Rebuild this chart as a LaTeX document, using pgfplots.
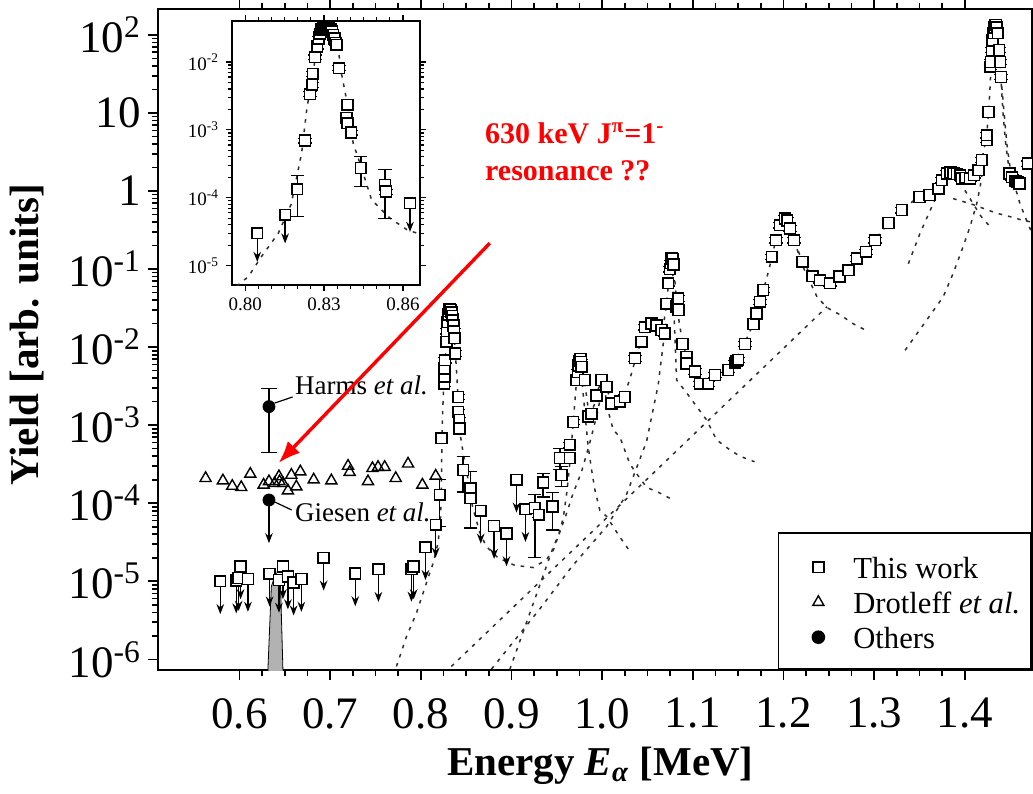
\documentclass[border=0pt]{standalone}
\usepackage{fontspec}
\setmainfont{Liberation Serif}
\usepackage{pgfplots}
\pgfplotsset{compat=1.18}
\usepackage{pgfplotstable}
\usetikzlibrary{arrows.meta}

% ---------------- main spectrum: this work ----------------
\pgfplotstableread{
E Y
0.8226 6.8e-4
0.8256 3.4e-3
0.8259 4.2e-3
0.8262 5.3e-3
0.8265 6.8e-3
0.8281 1.17e-2
0.8288 1.6e-2
0.8295 2.1e-2
0.8302 2.6e-2
0.8309 2.9e-2
0.8316 3.1e-2
0.8323 3.1e-2
0.8330 3.0e-2
0.8337 2.8e-2
0.8344 2.5e-2
0.8351 2.2e-2
0.8358 1.9e-2
0.8365 1.6e-2
0.8372 1.3e-2
0.8378 8.3e-3
0.8410 2.3e-3
0.8412 1.48e-3
0.8423 1.17e-3
0.8426 9.1e-4
0.8547 1.16e-4
0.9300 7.1e-5
0.9642 3.8e-4
0.9642 5.6e-4
0.9679 1.1e-3
0.9716 3.8e-3
0.9730 4.8e-3
0.9738 5.8e-3
0.9745 6.6e-3
0.9752 7.1e-3
0.9759 7.1e-3
0.9766 6.5e-3
0.9773 5.6e-3
0.9808 3.8e-3
0.9845 1.29e-3
0.9882 1.4e-3
0.9937 2.4e-3
0.9992 3.8e-3
1.0048 3.1e-3
1.0103 1.9e-3
1.0194 2.0e-3
1.0249 2.3e-3
1.0360 7.2e-3
1.0433 1.17e-2
1.0470 1.8e-2
1.0543 2.0e-2
1.0600 1.9e-2
1.0654 1.66e-2
1.0690 1.5e-2
1.0710 3.6e-2
1.0728 6.6e-2
1.0745 0.10
1.0755 0.12
1.0765 0.138
1.0775 0.135
1.0785 0.115
1.0819 0.033
1.0837 0.042
1.0840 0.030
1.0886 1.1e-2
1.0930 7.5e-3
1.0930 6.2e-3
1.1022 4.9e-3
1.1077 3.4e-3
1.1169 3.4e-3
1.1243 4.4e-3
1.1390 5.1e-3
1.1464 6.3e-3
1.1480 6.6e-3
1.1500 6.9e-3
1.1574 1.1e-2
1.1666 1.98e-2
1.1703 2.7e-2
1.1740 3.8e-2
1.1776 5.4e-2
1.1869 0.144
1.1916 0.235
1.1960 0.366
1.2015 0.446
1.2040 0.42
1.2070 0.332
1.2115 0.235
1.2210 0.124
1.2320 0.081
1.2402 0.072
1.2512 0.066
1.2616 0.080
1.2714 0.097
1.2807 0.137
1.2910 0.167
1.3008 0.235
1.3156 0.39
1.3303 0.57
1.3498 0.84
1.3609 0.89
1.3708 1.07
1.3745 1.38
1.3800 1.68
1.3840 1.72
1.3874 1.68
1.3910 1.65
1.3948 1.60
1.3966 1.45
1.4005 1.48
1.4057 1.45
1.4100 1.60
1.4150 1.85
1.4186 2.5
1.4241 4.5
1.4241 5.2
1.4259 10.3
1.4278 39
1.4287 45
1.4296 64
1.4305 85
1.4315 105
1.4325 125
1.4333 135
1.4343 135
1.4352 125
1.4362 105
1.4378 64
1.4390 45
1.4397 29
1.4490 1.68
1.4520 1.5
1.4560 1.35
1.4582 1.31
1.4600 1.25
1.4693 2.25
}\twdata

% points with large asymmetric uncertainties
\pgfplotstableread{
E Y ep em
0.8208 1.28e-4 0.72e-4 0.78e-4
0.8466 2.66e-4 1.30e-4 1.26e-4
0.8547 1.56e-4 0.98e-4 1.08e-4
0.9256 8.7e-5 4.2e-5 6.7e-5
0.9348 1.84e-4 0.56e-4 0.64e-4
0.9451 9.1e-5 4.6e-5 4.55e-5
0.9551 2.3e-4 0.65e-4 0.67e-4
0.9532 3.8e-4 1.2e-4 1.1e-4
}\twerr

% upper limits
\pgfplotstableread{
E Y
0.5787 1.0e-5
0.5963 1.02e-5
0.5990 1.1e-5
0.6011 1.55e-5
0.6092 1.07e-5
0.6331 1.25e-5
0.6434 1.04e-5
0.6478 1.55e-5
0.6533 1.15e-5
0.6596 9.6e-6
0.6681 1.07e-5
0.6927 2.0e-5
0.7276 1.26e-5
0.7531 1.43e-5
0.7895 1.44e-5
0.7920 1.55e-5
0.8050 2.73e-5
0.8163 5.3e-5
0.8660 8.0e-5
0.8807 5.1e-5
0.8944 4.1e-5
0.9054 2.0e-4
0.9153 8.4e-5
}\twul

% Drotleff et al.
\pgfplotstableread{
E Y
0.5625 2.09e-4
0.5816 1.95e-4
0.5919 1.66e-4
0.6018 1.60e-4
0.6118 2.37e-4
0.6265 1.72e-4
0.6324 1.90e-4
0.6386 1.80e-4
0.6434 2.20e-4
0.6440 1.90e-4
0.6478 1.80e-4
0.6533 1.45e-4
0.6571 2.30e-4
0.6626 1.63e-4
0.6670 2.54e-4
0.6817 2.00e-4
0.7012 1.95e-4
0.7196 3.00e-4
0.7214 2.50e-4
0.7416 1.90e-4
0.7465 2.80e-4
0.7527 2.90e-4
0.7600 2.90e-4
0.7722 2.09e-4
0.7858 3.20e-4
0.8016 1.72e-4
0.8163 2.24e-4
}\drot

% fit: total yield
\pgfplotstableread{
E Y
0.773 8.1e-7
0.784 1.95e-6
0.795 3.9e-6
0.806 9.5e-6
0.8134 1.7e-5
0.8189 3.1e-5
0.8215 6e-5
0.8225 1.5e-4
0.8232 6e-4
0.8240 1.5e-3
0.8250 3e-3
0.8265 6e-3
0.8280 1.2e-2
0.8300 2.2e-2
0.8320 2.9e-2
0.8340 2.6e-2
0.8360 1.7e-2
0.8380 8.5e-3
0.8400 3.5e-3
0.8430 8e-4
0.8466 4.4e-4
0.8520 2e-4
0.8570 8.9e-5
0.8650 4.2e-5
0.8720 2.8e-5
0.8850 2.0e-5
0.9035 1.6e-5
0.9240 1.5e-5
0.9385 1.9e-5
0.9460 2.5e-5
0.9512 3.7e-5
0.9570 6.5e-5
0.9610 1.4e-4
0.9650 4e-4
0.9680 1.1e-3
0.9710 3e-3
0.9735 6e-3
0.9755 7.2e-3
0.9780 5.5e-3
0.9810 3.3e-3
0.9840 1.8e-3
0.9870 1.4e-3
0.9910 1.8e-3
0.9960 3e-3
1.0000 3.6e-3
1.0040 3.2e-3
1.0080 2.3e-3
1.0120 1.9e-3
1.0180 2.0e-3
1.0250 2.5e-3
1.0320 4.5e-3
1.0380 8e-3
1.0440 1.3e-2
1.0500 1.8e-2
1.0560 2.0e-2
1.0620 1.8e-2
1.0670 1.8e-2
1.0710 3.5e-2
1.0735 8e-2
1.0765 0.14
1.0790 0.10
1.0815 0.045
1.0850 0.020
1.0890 0.011
1.0950 6.5e-3
1.1020 4.8e-3
1.1100 3.5e-3
1.1180 3.4e-3
1.1260 4.2e-3
1.1350 4.9e-3
1.1450 6.2e-3
1.1550 1e-2
1.1630 1.6e-2
1.1700 2.7e-2
1.1770 5e-2
1.1840 0.10
1.1900 0.20
1.1960 0.36
1.2010 0.44
1.2060 0.36
1.2120 0.23
1.2200 0.13
1.2300 0.085
1.2400 0.070
1.2500 0.065
1.2600 0.075
1.2700 0.095
1.2800 0.13
1.2900 0.17
1.3000 0.23
1.3150 0.38
1.3300 0.56
1.3450 0.78
1.3600 0.95
1.3700 1.15
1.3780 1.55
1.3850 1.70
1.3920 1.65
1.4000 1.50
1.4080 1.50
1.4150 1.90
1.4200 3.0
1.4240 5.0
1.4270 15
1.4300 70
1.4335 135
1.4370 80
1.4395 30
1.4420 10
1.4450 4
1.4490 1.8
1.4550 1.35
1.4600 1.30
}\fitsum

% fit: single-resonance contributions
\pgfplotstableread{
E Y
0.9760 6e-3
0.9790 2.5e-3
0.9825 9e-4
0.9845 5.3e-4
0.9882 2.7e-4
0.9918 1.5e-4
0.9974 8.1e-5
1.0047 6.8e-5
1.0121 5.0e-5
1.0194 3.7e-5
1.0286 2.6e-5
}\partA
\pgfplotstableread{
E Y
1.0020 3.2e-3
1.0060 1.6e-3
1.0121 8.7e-4
1.0194 7.1e-4
1.0304 3.2e-4
1.0378 2.4e-4
1.0489 1.6e-4
1.0636 1.35e-4
1.0782 1.1e-4
}\partB
\pgfplotstableread{
E Y
1.0775 0.12
1.0790 0.03
1.0820 3.8e-3
1.0930 2.6e-3
1.1040 1.74e-3
1.1150 1.17e-3
1.1260 6.5e-4
1.1410 4.8e-4
1.1520 4.0e-4
1.1680 3.4e-4
}\partC
\pgfplotstableread{
E Y
1.2115 0.235
1.2214 0.107
1.2369 4.4e-2
1.2480 3.2e-2
1.2623 2.6e-2
1.2766 2.0e-2
1.2900 1.66e-2
}\partD
\pgfplotstableread{
E Y
0.8335 8.1e-7
1.0400 1.6e-4
1.2479 3.3e-2
}\partE
\pgfplotstableread{
E Y
0.898 7.4e-7
0.935 1.2e-5
0.946 2.75e-5
0.953 4.2e-5
0.9606 7.4e-5
0.968 1.35e-4
0.977 2.5e-4
0.984 4.8e-4
0.988 7.1e-4
0.995 1.5e-3
1.000 3.0e-3
}\partF
\pgfplotstableread{
E Y
0.8778 7.5e-7
0.9310 4.4e-6
0.9666 1.55e-5
1.0047 5.0e-5
1.0268 1.3e-4
1.0489 6.2e-4
1.0617 3.3e-3
1.0700 2.0e-2
}\partG
\pgfplotstableread{
E Y
1.3376 0.117
1.3506 0.29
1.3635 0.63
1.3750 1.3
}\partI
\pgfplotstableread{
E Y
1.334 9.1e-3
1.376 4.4e-2
1.387 8.8e-2
1.3966 0.175
1.4057 0.35
1.4130 0.69
1.4168 1.13
1.4200 2.0
}\partJ
\pgfplotstableread{
E Y
1.387 0.80
1.4075 0.68
1.4203 0.60
1.4350 0.52
1.4497 0.47
1.4644 0.42
1.4740 0.40
}\partK
\pgfplotstableread{
E Y
1.400 1.02
1.409 0.69
1.418 0.47
1.4296 0.33
}\partL
\pgfplotstableread{
E Y
1.4397 29
1.4462 4.07
1.4497 2.04
1.4553 1.13
1.4607 0.69
1.4680 0.42
1.4740 0.29
}\partM

% ---------------- inset: 0.83 MeV resonance ----------------
\pgfplotstableread{
E Y
0.8228 6.97e-4
0.8247 3.35e-3
0.8255 4.6e-3
0.8257 6.7e-3
0.8266 1.17e-2
0.8274 1.68e-2
0.8280 2.2e-2
0.8285 2.6e-2
0.8290 3.0e-2
0.8295 3.2e-2
0.8300 3.3e-2
0.8305 3.3e-2
0.8310 3.3e-2
0.8315 3.3e-2
0.8320 3.2e-2
0.8325 3.0e-2
0.8330 2.8e-2
0.8335 2.5e-2
0.8340 2.2e-2
0.8345 1.9e-2
0.8348 1.78e-2
0.8357 8.1e-3
0.8390 2.33e-3
0.8386 1.49e-3
0.8390 1.25e-3
0.8403 9.1e-4
0.8536 1.23e-4
}\indata
\pgfplotstableread{
E Y ep em
0.8198 1.34e-4 0.80e-4 0.81e-4
0.8440 2.75e-4 1.30e-4 1.28e-4
0.8532 1.55e-4 1.05e-4 1.05e-4
}\inerr
\pgfplotstableread{
E Y
0.8046 3.0e-5
0.8152 5.6e-5
0.8627 8.3e-5
}\inul
\pgfplotstableread{
E Y
0.7968 5.0e-6
0.8012 6.9e-6
0.8063 1.38e-5
0.8126 3.0e-5
0.8175 8.0e-5
0.8215 4.6e-4
0.8234 1.95e-3
0.8260 8.0e-3
0.8280 2.0e-2
0.8305 3.3e-2
0.8330 3.3e-2
0.8350 2.0e-2
0.8367 6.5e-3
0.8386 2.75e-3
0.8411 6.3e-4
0.8437 3.2e-4
0.8481 9.3e-5
0.8551 5.0e-5
0.8615 3.4e-5
0.8665 2.9e-5
}\infit

\definecolor{fitgray}{RGB}{45,45,45}
\pgfplotsset{
  fitline/.style={color=fitgray, line width=0.75pt, dash pattern=on 1.8pt off 3pt, forget plot},
  sq/.style={only marks, mark=square*, mark size=2.7pt,
    mark options={fill=white, draw=black, line width=0.8pt}, forget plot},
  small err/.style={error bars/.cd, y dir=both, y fixed relative=0.08,
    error bar style={line width=0.6pt, black},
    error mark options={rotate=90, line width=0.6pt, mark size=3.3pt, black}},
  big err/.style={error bars/.cd, y dir=both, y explicit,
    error bar style={line width=0.7pt, black},
    error mark options={rotate=90, line width=0.7pt, mark size=3.3pt, black}},
  limit/.style={error bars/.cd, y dir=minus, y fixed relative=0.62,
    error mark=none,
    error bar style={line width=0.7pt, black, -{Stealth[length=5pt,width=3.8pt]}}},
}

\begin{document}
\begin{tikzpicture}
\begin{axis}[
  at={(0,0)}, anchor=south west,
  scale only axis, width=437pt, height=330.5pt,
  xmin=0.51, xmax=1.474,
  ymode=log, ymin=7.3e-7, ymax=215,
  axis line style={line width=1pt},
  tick align=outside, xtick pos=both, ytick pos=left,
  xtick={0.6,0.7,0.8,0.9,1.0,1.1,1.2,1.3,1.4},
  xticklabels={0.6,0.7,0.8,0.9,1.0,1.1,1.2,1.3,1.4},
  minor x tick num=3,
  ytick={1e-6,1e-5,1e-4,1e-3,1e-2,1e-1,1,10,100},
  yticklabels={10\textsuperscript{-6},10\textsuperscript{-5},10\textsuperscript{-4},10\textsuperscript{-3},10\textsuperscript{-2},10\textsuperscript{-1},1,10,10\textsuperscript{2}},
  major tick length=5pt, minor tick length=3pt,
  every tick/.append style={line width=0.8pt, black},
  tick label style={font=\fontsize{22.5}{24}\selectfont},
  xticklabel style={yshift=-5.5pt},
  every axis x label/.style={at={(axis description cs:0.506,-0.1445)}, anchor=center},
  every axis y label/.style={at={(axis description cs:-0.150,0.507)}, rotate=90, anchor=center},
  label style={font=\bfseries\fontsize{20.5}{24}\selectfont},
  xlabel={Energy \textit{E}\textsubscript{\textit{α}} [MeV]},
  ylabel={Yield [arb. units]},
  legend style={at={(1,0)}, anchor=south east, draw=black, line width=0.8pt, fill=white,
    font=\fontsize{15.3}{17}\selectfont, inner xsep=5.5pt, inner ysep=9.5pt,
    row sep=3.5pt, column sep=0pt,
    nodes={inner sep=0pt, text height=13pt, text depth=1pt},
    cells={anchor=base west}},
]
\addlegendimage{legend image code/.code={\path[draw=none, fill=none] (0pt,-1pt) rectangle (32pt,13pt);
    \draw[black, line width=0.8pt, mark size=2.7pt] plot[only marks, mark=square] coordinates {(14.5pt,5.5pt)};}}
\addlegendentry{This work}
\addlegendimage{legend image code/.code={\path[draw=none, fill=none] (0pt,-1pt) rectangle (32pt,13pt);
    \draw[black, line width=0.7pt, mark size=3.2pt] plot[only marks, mark=triangle] coordinates {(14.5pt,5.5pt)};}}
\addlegendentry{Drotleff \textit{et al.}}
\addlegendimage{legend image code/.code={\path[draw=none, fill=none] (0pt,-1pt) rectangle (32pt,13pt);
    \fill[black] plot[only marks, mark=*, mark size=3pt] coordinates {(14.5pt,5.5pt)};}}
\addlegendentry{Others}

% calculated yield of a 630 keV resonance
\addplot[fill=gray!60, draw=black, line width=0.4pt, forget plot] coordinates {
  (0.6281,1e-7) (0.6312,7.3e-7) (0.6350,8.5e-6) (0.6401,1.3e-5)
  (0.6452,8.5e-6) (0.6478,7.3e-7) (0.6499,1e-7)};

% fit curves
\addplot[fitline] table[x=E,y=Y] {\fitsum};
\addplot[fitline] table[x=E,y=Y] {\partA};
\addplot[fitline] table[x=E,y=Y] {\partB};
\addplot[fitline] table[x=E,y=Y] {\partC};
\addplot[fitline] table[x=E,y=Y] {\partD};
\addplot[fitline] table[x=E,y=Y] {\partE};
\addplot[fitline] table[x=E,y=Y] {\partF};
\addplot[fitline] table[x=E,y=Y] {\partG};
\addplot[fitline] table[x=E,y=Y] {\partI};
\addplot[fitline] table[x=E,y=Y] {\partJ};
\addplot[fitline] table[x=E,y=Y] {\partK};
\addplot[fitline] table[x=E,y=Y] {\partL};
\addplot[fitline] table[x=E,y=Y] {\partM};

% Drotleff et al.
\addplot[only marks, mark=triangle, mark size=3.2pt, mark options={line width=0.7pt, fill=white}, forget plot]
  table[x=E,y=Y] {\drot};

% this work
\addplot[sq, limit] table[x=E,y=Y] {\twul};
\addplot[sq, big err] table[x=E,y=Y,y error plus=ep,y error minus=em] {\twerr};
\addplot[sq, small err] table[x=E,y=Y] {\twdata};

% other measurements
\addplot[only marks, mark=*, mark size=3pt, forget plot,
  error bars/.cd, y dir=both, y explicit,
  error bar style={line width=0.7pt}, error mark options={rotate=90, line width=0.7pt, mark size=4pt}]
  table[x=E,y=Y,y error plus=ep,y error minus=em,row sep=\\] {
E Y ep em \\
0.6324 1.73e-3 1.23e-3 1.285e-3 \\
};
\addplot[only marks, mark=*, mark size=3pt, forget plot,
  error bars/.cd, y dir=minus, y fixed relative=0.72, error mark=none,
  error bar style={line width=0.7pt, -{Stealth[length=5pt,width=3.8pt]}}]
  coordinates {(0.6324,1.1e-4)};

% annotations
\draw[line width=0.6pt] (axis cs:0.6386,1.92e-3) -- (axis cs:0.6585,2.3e-3);
\node[anchor=base west, inner sep=0pt, font=\fontsize{13.5}{16}\selectfont]
  at (axis cs:0.6607,2.44e-3) {Harms \textit{et al.}};
\draw[line width=0.6pt] (axis cs:0.6386,1.04e-4) -- (axis cs:0.6574,8.2e-5);
\node[anchor=base west, inner sep=0pt, font=\fontsize{13.5}{16}\selectfont]
  at (axis cs:0.6607,5.75e-5) {Giesen \textit{et al.}};

\draw[red, line width=1.7pt, -{Latex[length=11pt,width=8.5pt]}]
  (axis cs:0.876,0.215) -- (axis cs:0.643,3.28e-4);
\node[anchor=base west, inner sep=0pt, text=red, font=\bfseries\fontsize{15}{18}\selectfont]
  at (axis cs:0.8704,4.1) {630 keV J\textsuperscript{π}=1\textsuperscript{-}};
\node[anchor=base west, inner sep=0pt, text=red, font=\bfseries\fontsize{15}{18}\selectfont]
  at (axis cs:0.8704,1.38) {resonance ??};
\end{axis}

% inset
\begin{axis}[
  at={(37pt,192.5pt)}, anchor=south west,
  scale only axis, width=94pt, height=132pt,
  xmin=0.795, xmax=0.8665,
  ymode=log, ymin=5.2e-6, ymax=0.04,
  axis background/.style={fill=white},
  axis line style={line width=0.8pt},
  tick align=outside,
  xtick={0.80,0.83,0.86}, xticklabels={0.80,0.83,0.86},
  minor x tick num=5,
  ytick={1e-5,1e-4,1e-3,1e-2},
  yticklabels={10\textsuperscript{-5},10\textsuperscript{-4},10\textsuperscript{-3},10\textsuperscript{-2}},
  major tick length=3pt, minor tick length=2pt,
  every tick/.append style={line width=0.6pt, black},
  tick label style={font=\fontsize{9.5}{11}\selectfont},
]
\addplot[fitline] table[x=E,y=Y] {\infit};
\addplot[sq, limit] table[x=E,y=Y] {\inul};
\addplot[sq, big err] table[x=E,y=Y,y error plus=ep,y error minus=em] {\inerr};
\addplot[sq, small err] table[x=E,y=Y] {\indata};
\end{axis}

\pgfresetboundingbox
\path (-79pt,-61.5pt) rectangle (437.5pt,335pt);
\end{tikzpicture}
\end{document}
